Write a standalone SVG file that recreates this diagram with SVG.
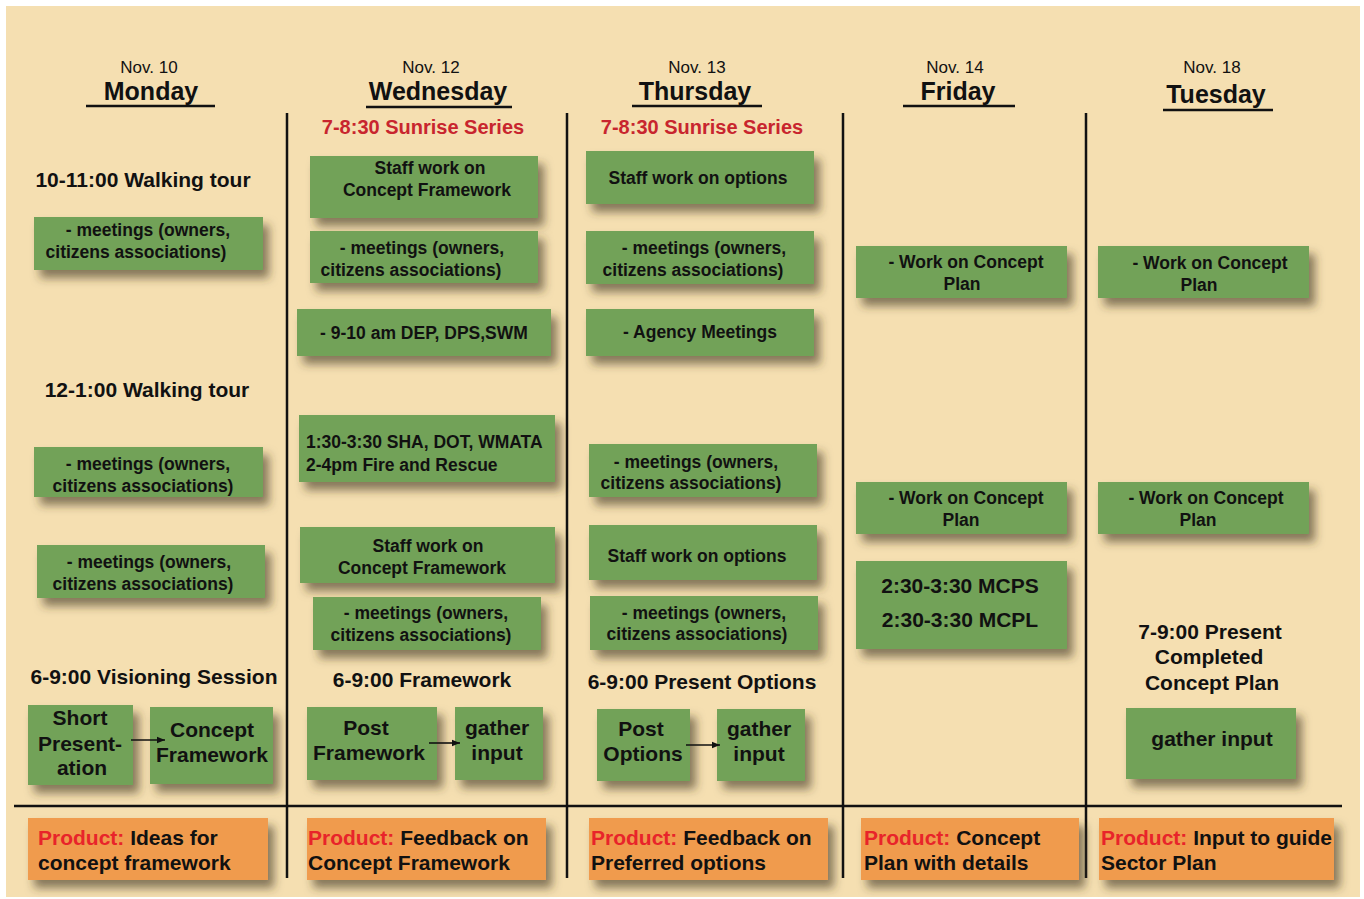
<svg xmlns="http://www.w3.org/2000/svg" width="1364" height="899" viewBox="0 0 1364 899">
<defs>
<filter id="sh" x="-20%" y="-30%" width="150%" height="180%">
<feDropShadow dx="6" dy="8" stdDeviation="5" flood-color="#3a3020" flood-opacity="0.6"/>
</filter>
<marker id="ah" viewBox="0 0 10 10" refX="10" refY="5" markerWidth="9" markerHeight="8" markerUnits="userSpaceOnUse" orient="auto">
<path d="M0,1 L10,5 L0,9 z" fill="#111"/>
</marker>
<style>
text{font-family:"Liberation Sans",Arial,sans-serif;fill:#111;}
.g{fill:#72a258;filter:url(#sh);}
.o{fill:#f09b4e;filter:url(#sh);}
.nov{font-size:17px;text-anchor:middle;}
.day{font-size:25px;font-weight:bold;text-anchor:middle;}
.b{font-size:17.5px;font-weight:bold;text-anchor:middle;}
.bs{font-size:17.5px;font-weight:bold;text-anchor:start;}
.h{font-size:21px;font-weight:bold;text-anchor:middle;}
.r{font-size:20px;font-weight:bold;text-anchor:middle;fill:#c8252e;}
.p{font-size:21px;font-weight:bold;}
.pr{fill:#e8242a;}
.ln{stroke:#111;stroke-width:2.5;fill:none;}
.ar{stroke:#111;stroke-width:1.6;fill:none;marker-end:url(#ah);}
</style>
</defs>
<rect x="6" y="6" width="1354" height="891" fill="#f5dfb1"/>

<g id="grid">
<line class="ln" x1="287" y1="113" x2="287" y2="878"/>
<line class="ln" x1="567" y1="113" x2="567" y2="878"/>
<line class="ln" x1="843" y1="113" x2="843" y2="878"/>
<line class="ln" x1="1086" y1="113" x2="1086" y2="878"/>
<line class="ln" x1="14" y1="806" x2="1342" y2="806"/>
</g>

<g id="headers">
<text class="nov" x="149" y="73">Nov. 10</text>
<text class="day" x="151" y="100">Monday</text>
<line class="ln" x1="86" y1="106" x2="215" y2="106"/>
<text class="nov" x="431" y="73">Nov. 12</text>
<text class="day" x="438" y="100">Wednesday</text>
<line class="ln" x1="366" y1="107" x2="512" y2="107"/>
<text class="nov" x="697" y="73">Nov. 13</text>
<text class="day" x="695" y="100">Thursday</text>
<line class="ln" x1="632" y1="106" x2="762" y2="106"/>
<text class="nov" x="955" y="73">Nov. 14</text>
<text class="day" x="958" y="100">Friday</text>
<line class="ln" x1="903" y1="106" x2="1015" y2="106"/>
<text class="nov" x="1212" y="73">Nov. 18</text>
<text class="day" x="1216" y="103">Tuesday</text>
<line class="ln" x1="1163" y1="110" x2="1273" y2="110"/>
</g>

<g id="monday">
<text class="h" x="143" y="187">10-11:00 Walking tour</text>
<g id="mon-meet1"><rect class="g" x="34" y="217" width="229" height="53"/>
<text class="b" x="148" y="236">- meetings (owners,</text><text class="b" x="136" y="258">citizens associations)</text></g>
<text class="h" x="147" y="397">12-1:00 Walking tour</text>
<g id="mon-meet2"><rect class="g" x="34" y="447" width="229" height="50"/>
<text class="b" x="148" y="470">- meetings (owners,</text><text class="b" x="143" y="492">citizens associations)</text></g>
<g id="mon-meet3"><rect class="g" x="37" y="545" width="228" height="53"/>
<text class="b" x="149" y="568">- meetings (owners,</text><text class="b" x="143" y="590">citizens associations)</text></g>
<text class="h" x="154" y="684">6-9:00 Visioning Session</text>
<g id="mon-short"><rect class="g" x="28" y="705" width="105" height="80"/>
<text class="h" x="80" y="725">Short</text><text class="h" x="80" y="751">Present-</text><text class="h" x="82" y="775">ation</text></g>
<g id="mon-concept"><rect class="g" x="150" y="707" width="123" height="77"/>
<text class="h" x="212" y="737">Concept</text><text class="h" x="212" y="762">Framework</text></g>
</g>

<g id="wednesday">
<text class="r" x="423" y="134">7-8:30 Sunrise Series</text>
<g id="wed-staff1"><rect class="g" x="310" y="156" width="228" height="62"/>
<text class="b" x="430" y="174">Staff work on</text><text class="b" x="427" y="196">Concept Framework</text></g>
<g id="wed-meet1"><rect class="g" x="310" y="231" width="228" height="52"/>
<text class="b" x="422" y="254">- meetings (owners,</text><text class="b" x="411" y="276">citizens associations)</text></g>
<g id="wed-dep"><rect class="g" x="297" y="309" width="254" height="47"/>
<text class="b" x="424" y="339">- 9-10 am DEP, DPS,SWM</text></g>
<g id="wed-sha"><rect class="g" x="299" y="415" width="256" height="67"/>
<text class="bs" x="306" y="448">1:30-3:30 SHA, DOT, WMATA</text><text class="bs" x="306" y="471">2-4pm Fire and Rescue</text></g>
<g id="wed-staff2"><rect class="g" x="300" y="527" width="255" height="56"/>
<text class="b" x="428" y="552">Staff work on</text><text class="b" x="422" y="574">Concept Framework</text></g>
<g id="wed-meet2"><rect class="g" x="313" y="597" width="228" height="53"/>
<text class="b" x="426" y="619">- meetings (owners,</text><text class="b" x="421" y="641">citizens associations)</text></g>
<text class="h" x="422" y="687">6-9:00 Framework</text>
<g id="wed-post"><rect class="g" x="307" y="707" width="130" height="73"/>
<text class="h" x="366" y="735">Post</text><text class="h" x="369" y="760">Framework</text></g>
<g id="wed-gather"><rect class="g" x="455" y="707" width="88" height="73"/>
<text class="h" x="497" y="735">gather</text><text class="h" x="497" y="760">input</text></g>
</g>

<g id="thursday">
<text class="r" x="702" y="134">7-8:30 Sunrise Series</text>
<g id="thu-staff1"><rect class="g" x="586" y="151" width="228" height="53"/>
<text class="b" x="698" y="184">Staff work on options</text></g>
<g id="thu-meet1"><rect class="g" x="586" y="231" width="228" height="53"/>
<text class="b" x="704" y="254">- meetings (owners,</text><text class="b" x="693" y="276">citizens associations)</text></g>
<g id="thu-agency"><rect class="g" x="586" y="309" width="228" height="47"/>
<text class="b" x="700" y="338">- Agency Meetings</text></g>
<g id="thu-meet2"><rect class="g" x="589" y="444" width="228" height="53"/>
<text class="b" x="696" y="468">- meetings (owners,</text><text class="b" x="691" y="489">citizens associations)</text></g>
<g id="thu-staff2"><rect class="g" x="589" y="525" width="228" height="55"/>
<text class="b" x="697" y="562">Staff work on options</text></g>
<g id="thu-meet3"><rect class="g" x="590" y="596" width="228" height="54"/>
<text class="b" x="704" y="619">- meetings (owners,</text><text class="b" x="697" y="640">citizens associations)</text></g>
<text class="h" x="702" y="689">6-9:00 Present Options</text>
<g id="thu-post"><rect class="g" x="597" y="709" width="93" height="72"/>
<text class="h" x="641" y="736">Post</text><text class="h" x="643" y="761">Options</text></g>
<g id="thu-gather"><rect class="g" x="717" y="709" width="88" height="72"/>
<text class="h" x="759" y="736">gather</text><text class="h" x="759" y="761">input</text></g>
</g>

<g id="friday">
<g id="fri-work1"><rect class="g" x="856" y="246" width="211" height="52"/>
<text class="b" x="966" y="268">- Work on Concept</text><text class="b" x="962" y="290">Plan</text></g>
<g id="fri-work2"><rect class="g" x="856" y="482" width="211" height="52"/>
<text class="b" x="966" y="504">- Work on Concept</text><text class="b" x="961" y="526">Plan</text></g>
<g id="fri-mcps"><rect class="g" x="856" y="561" width="211" height="88"/>
<text class="h" x="960" y="593">2:30-3:30 MCPS</text><text class="h" x="960" y="627">2:30-3:30 MCPL</text></g>
</g>

<g id="tuesday">
<g id="tue-work1"><rect class="g" x="1098" y="246" width="211" height="52"/>
<text class="b" x="1210" y="269">- Work on Concept</text><text class="b" x="1199" y="291">Plan</text></g>
<g id="tue-work2"><rect class="g" x="1098" y="482" width="211" height="52"/>
<text class="b" x="1206" y="504">- Work on Concept</text><text class="b" x="1198" y="526">Plan</text></g>
<text class="h" x="1210" y="639">7-9:00 Present</text>
<text class="h" x="1209" y="664">Completed</text>
<text class="h" x="1212" y="690">Concept Plan</text>
<g id="tue-gather"><rect class="g" x="1126" y="708" width="170" height="71"/>
<text class="h" x="1212" y="746">gather input</text></g>
</g>

<g id="connectors">
<line class="ar" x1="131" y1="740" x2="165" y2="740"/>
<line class="ar" x1="429" y1="743" x2="460" y2="743"/>
<line class="ar" x1="686" y1="745" x2="720" y2="745"/>
</g>

<g id="products">
<g id="prod-mon"><rect class="o" x="28" y="818" width="240" height="62"/>
<text class="p" x="38" y="845"><tspan class="pr">Product:</tspan> Ideas for</text><text class="p" x="38" y="870">concept framework</text></g>
<g id="prod-wed"><rect class="o" x="307" y="818" width="239" height="62"/>
<text class="p" x="308" y="845"><tspan class="pr">Product:</tspan> Feedback on</text><text class="p" x="308" y="870">Concept Framework</text></g>
<g id="prod-thu"><rect class="o" x="589" y="818" width="239" height="62"/>
<text class="p" x="591" y="845"><tspan class="pr">Product:</tspan> Feedback on</text><text class="p" x="591" y="870">Preferred options</text></g>
<g id="prod-fri"><rect class="o" x="861" y="818" width="218" height="62"/>
<text class="p" x="864" y="845"><tspan class="pr">Product:</tspan> Concept</text><text class="p" x="864" y="870">Plan with details</text></g>
<g id="prod-tue"><rect class="o" x="1099" y="818" width="235" height="62"/>
<text class="p" x="1101" y="845"><tspan class="pr">Product:</tspan> Input to guide</text><text class="p" x="1101" y="870">Sector Plan</text></g>
</g>
</svg>
